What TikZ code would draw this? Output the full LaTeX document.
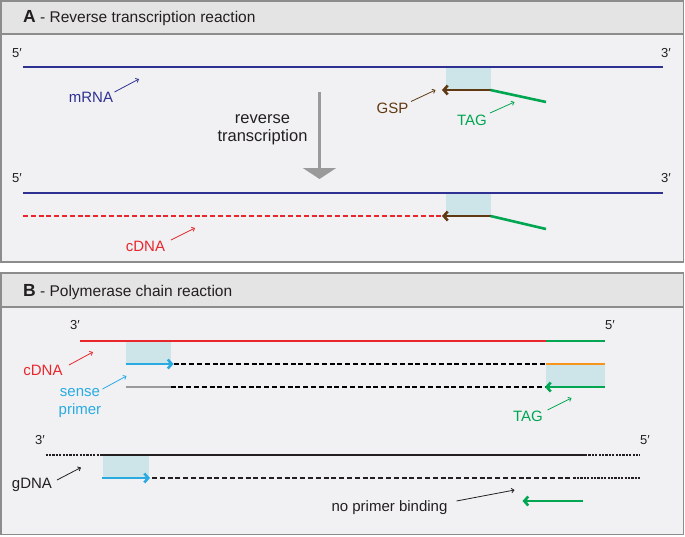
\documentclass[tikz,border=0pt]{standalone}
\usepackage{fontspec}
\setmainfont{Liberation Sans}
\usetikzlibrary{arrows.meta}
\definecolor{frameC}{HTML}{8C8C8C}
\definecolor{headC}{HTML}{E4E4E4}
\definecolor{bodyC}{HTML}{F1F1F3}
\definecolor{mblue}{HTML}{2E3192}
\definecolor{cred}{HTML}{E8262C}
\definecolor{gbrown}{HTML}{603913}
\definecolor{tgreen}{HTML}{00A651}
\definecolor{scyan}{HTML}{29ABE2}
\definecolor{torange}{HTML}{F7941D}
\definecolor{boxC}{HTML}{CDE5E8}
\definecolor{rtgray}{HTML}{9A9A9A}
\definecolor{dgray}{HTML}{231F20}
\tikzset{
  panel/.style={draw=frameC, line width=1.2pt, fill=bodyC},
  header/.style={draw=frameC, line width=1.2pt, fill=headC},
  strand/.style={line width=2.6pt},
  shade/.style={fill=boxC, draw=none},
  primertip/.style={-{Straight Barb[length=4pt,width=9pt]}},
  dashline/.style={strand, dash pattern=on 5pt off 2.8pt},
  dotline/.style={line width=2.3pt, dash pattern=on 2.2pt off 1.2pt},
  pointer/.style={line width=0.8pt, -{Straight Barb[length=2.5pt,width=4.5pt]}},
  lbl/.style={font=\fontsize{15}{16}\selectfont, inner sep=0pt},
  endlbl/.style={font=\fontsize{13}{14}\selectfont, inner sep=0pt, text=dgray},
  ttl/.style={font=\fontsize{15.5}{17}\selectfont, anchor=west, inner sep=0pt, text=dgray}
}
\begin{document}
\begin{tikzpicture}[x=1pt,y=-1pt]
\useasboundingbox (0,0) rectangle (685,536);
% ---------------- Panel A ----------------
\draw[panel] (1,1) rectangle (683.5,262);
\draw[header] (1,1) rectangle (683.5,34);
\node[ttl] (titleA) at (23,18) {{\fontsize{17.5}{18}\selectfont\bfseries A} - Reverse transcription reaction};
% first row
\node[endlbl] (a5a) at (17,53) {5′};
\node[endlbl] (a3a) at (666,53) {3′};
\fill[shade] (445.5,67) rectangle (490.5,90);
\coordinate (m1s) at (23,67);
\coordinate (m1e) at (663,67);
\draw[strand, mblue] (m1s) -- (m1e);
\coordinate (g1a) at (490.5,90);
\coordinate (g1b) at (442,90);
\coordinate (t1) at (546,102);
\draw[strand, gbrown, primertip] (g1a) -- (g1b);
\draw[strand, tgreen] (g1a) -- (t1);
\node[lbl, text=mblue] (mrna) at (91,97) {mRNA};
\coordinate (mrnaS) at (114.5,92);
\coordinate (mrnaP) at (139,79);
\draw[pointer, mblue] (mrnaS) -- (mrnaP);
\node[lbl, text=gbrown] (gsp) at (392.5,108) {GSP};
\coordinate (gspS) at (411,101.5);
\coordinate (gspP) at (435.5,90);
\draw[pointer, gbrown] (gspS) -- (gspP);
\node[lbl, text=tgreen] (tagA) at (472,120) {TAG};
\coordinate (tagAS) at (490,113);
\coordinate (tagAP) at (514.5,102);
\draw[pointer, tgreen] (tagAS) -- (tagAP);
% reverse transcription arrow
\coordinate (rtTop) at (319.5,91.5);
\coordinate (rtBot) at (319.5,179);
\draw[line width=2.6pt, rtgray, -{Triangle[width=33pt,length=11pt]}] (rtTop) -- (rtBot);
\node[lbl, text=dgray, align=center, font=\fontsize{16.5}{17.6}\selectfont] (rt) at (262.5,130) {reverse\\transcription};
% second row
\node[endlbl] (a5b) at (17,178) {5′};
\node[endlbl] (a3b) at (666,178) {3′};
\fill[shade] (445.5,193) rectangle (490.5,216);
\coordinate (m2s) at (23,193);
\coordinate (m2e) at (663,193);
\draw[strand, mblue] (m2s) -- (m2e);
\coordinate (c1s) at (23,216);
\coordinate (g2b) at (442,216);
\coordinate (g2a) at (490.5,216);
\coordinate (t2) at (546,229);
\draw[dashline, cred] (c1s) -- (g2b);
\draw[strand, gbrown, primertip] (g2a) -- (g2b);
\draw[strand, tgreen] (g2a) -- (t2);
\node[lbl, text=cred] (cdnaA) at (145.5,246) {cDNA};
\coordinate (cdnaAS) at (171,240);
\coordinate (cdnaAP) at (195,228);
\draw[pointer, cred] (cdnaAS) -- (cdnaAP);
% ---------------- Panel B ----------------
\draw[panel] (1,273) rectangle (683.5,534.5);
\draw[header] (1,273) rectangle (683.5,307);
\node[ttl] (titleB) at (23,292) {{\fontsize{17.5}{18}\selectfont\bfseries B} - Polymerase chain reaction};
% cDNA template
\node[endlbl] (b3a) at (75,325) {3′};
\node[endlbl] (b5a) at (610,325) {5′};
\fill[shade] (125.5,341) rectangle (170.5,364);
\fill[shade] (546,364) rectangle (605,387);
\coordinate (r1) at (79.5,341);
\coordinate (r2) at (546,341);
\coordinate (r3) at (605,341);
\draw[strand, cred] (r1) -- (r2);
\draw[strand, tgreen] (r2) -- (r3);
\coordinate (s1) at (125.5,364);
\coordinate (s2) at (173.5,364);
\coordinate (s3) at (546,364);
\coordinate (s5) at (605,364);
\draw[dashline, black] (s2) -- (s3);
\draw[strand, scyan, primertip] (s1) -- (s2);
\draw[strand, torange] (s3) -- (s5);
\coordinate (q1) at (125.5,387);
\coordinate (q2) at (170.5,387);
\coordinate (q3) at (545,387);
\coordinate (q4) at (605,387);
\draw[strand, rtgray] (q1) -- (q2);
\draw[dashline, black] (q2) -- (q3);
\draw[strand, tgreen, primertip] (q4) -- (q3);
\node[lbl, text=cred] (cdnaB) at (43,370) {cDNA};
\coordinate (cdnaBS) at (69,365);
\coordinate (cdnaBP) at (93,352);
\draw[pointer, cred] (cdnaBS) -- (cdnaBP);
\node[lbl, text=scyan, align=center, font=\fontsize{15}{18.5}\selectfont] (sense) at (80,403) {sense\\primer};
\coordinate (senseS) at (102.5,389);
\coordinate (senseP) at (126.5,376);
\draw[pointer, scyan] (senseS) -- (senseP);
\node[lbl, text=tgreen] (tagB) at (528,416) {TAG};
\coordinate (tagBS) at (547.5,410);
\coordinate (tagBP) at (571.5,398);
\draw[pointer, tgreen] (tagBS) -- (tagBP);
% gDNA
\node[endlbl] (b3b) at (40,440) {3′};
\node[endlbl] (b5b) at (645,440) {5′};
\fill[shade] (102.5,455) rectangle (148.5,478);
\coordinate (d1) at (45.5,455);
\coordinate (d2) at (101,455);
\coordinate (d3) at (585,455);
\coordinate (d4) at (640,455);
\draw[dotline, dgray] (d1) -- (d2);
\draw[strand, dgray] (d2) -- (d3);
\draw[dotline, dgray] (d3) -- (d4);
\coordinate (e1) at (101.5,478);
\coordinate (e2) at (150,478);
\coordinate (e3) at (152,478);
\coordinate (e4) at (573.5,478);
\coordinate (e5) at (640,478);
\draw[strand, scyan, primertip] (e1) -- (e2);
\draw[dashline, dgray] (e3) -- (e4);
\draw[dotline, dgray] (e4) -- (e5);
\node[lbl, text=dgray] (gdna) at (32,485) {gDNA};
\coordinate (gdnaS) at (57,480);
\coordinate (gdnaP) at (81,467.5);
\draw[pointer, dgray] (gdnaS) -- (gdnaP);
\node[lbl, text=dgray] (npb) at (389.5,508) {no primer binding};
\coordinate (npbS) at (456.5,501);
\coordinate (npbP) at (514.5,490);
\draw[pointer, dgray] (npbS) -- (npbP);
\coordinate (n1) at (583,501);
\coordinate (n2) at (522.5,501);
\draw[strand, tgreen, primertip] (n1) -- (n2);
\end{tikzpicture}
\end{document}
